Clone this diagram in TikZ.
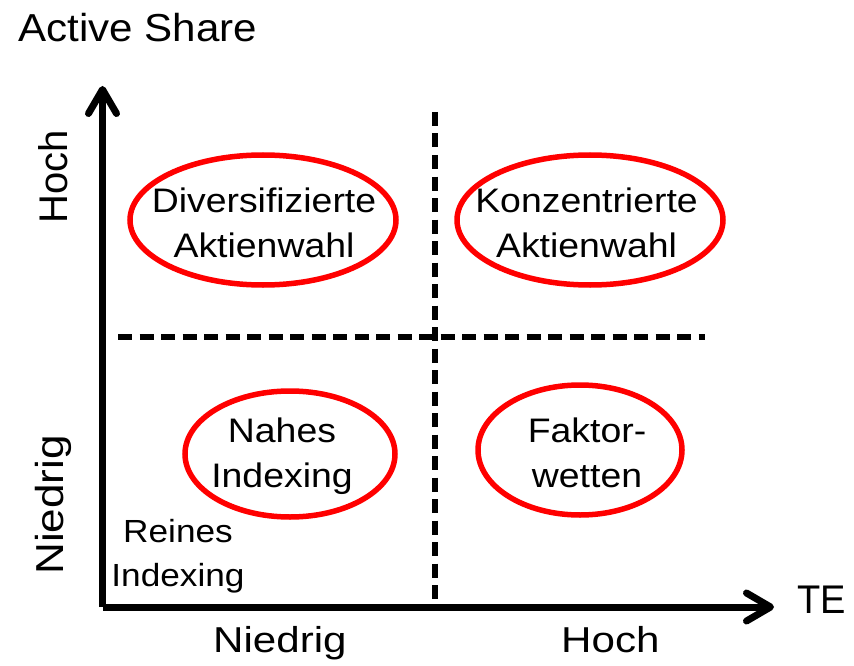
\documentclass[tikz,border=0pt]{standalone}
\usepackage{fontspec}
\setmainfont{Liberation Sans}
\usepackage{graphicx}
\usetikzlibrary{arrows.meta}

% stretched label text
\newcommand{\wide}[2]{\scalebox{#1}[1]{#2}}

\begin{document}
\begin{tikzpicture}[
    x=1pt,y=-1pt,
    >={Straight Barb[length=24pt,width=28pt,line cap=round,line join=round]},
    axis/.style={->,line width=7pt},
    divider/.style={line width=5.5pt,dash pattern=on 14pt off 7.5pt},
    ring/.style={draw=red,line width=5.5pt},
    field/.style={inner sep=0pt,align=center,font=\fontsize{34}{45}\selectfont},
    label/.style={inner sep=0pt,font=\fontsize{#1}{#1}\selectfont},
    label/.default=38
]

% Canvas
\useasboundingbox (0,0) rectangle (854,666);

% Axes
\coordinate (origin) at (102.5,607);
\coordinate (ytip) at (102.5,86);
\coordinate (xtip) at (774,607);
\draw[axis] (origin) -- (ytip);
\draw[axis] (origin) -- (xtip);

% Quadrant dividers
\coordinate (vtop) at (435,112);
\coordinate (vbot) at (435,607);
\coordinate (hleft) at (118,337);
\coordinate (hright) at (705,337);
\draw[divider] (vtop) -- (vbot);
\draw[divider] (hleft) -- (hright);

% Axis titles
\node[label=39,anchor=base west] (ytitle) at (18,42) {\wide{1.08}{Active Share}};
\node[label=40,anchor=base west] (xtitle) at (797,613) {\wide{0.95}{TE}};

% Axis levels
\node[label=40,rotate=90,anchor=base west] (yhigh) at (67,224) {Hoch};
\node[label=39,rotate=90,anchor=base west] (ylow) at (63,575) {\wide{1.13}{Niedrig}};
\node[label=36,anchor=base west] (xlow) at (213,652) {\wide{1.17}{Niedrig}};
\node[label=36,anchor=base west] (xhigh) at (561,652) {\wide{1.17}{Hoch}};

% Quadrants
\node[field] (diversified) at (264,223) {\wide{1.1}{Diversifizierte}\\\wide{1.1}{Aktienwahl}};
\node[field] (concentrated) at (586.5,223) {\wide{1.1}{Konzentrierte}\\\wide{1.1}{Aktienwahl}};
\node[field] (closeindex) at (282,456) {\wide{1.1}{Nahes}\\\wide{1.1}{Indexing}};
\node[field] (factor) at (587,452.5) {\wide{1.1}{Faktor-}\\\wide{1.1}{wetten}};
\draw[ring] (263,220) ellipse [x radius=133,y radius=65];
\draw[ring] (590,220) ellipse [x radius=133,y radius=65];
\draw[ring] (290,454) ellipse [x radius=105,y radius=63];
\draw[ring] (580,450) ellipse [x radius=102,y radius=65];

% Corner case
\node[field,font=\fontsize{32}{44}\selectfont] (pureindex) at (178,556) {\wide{1.1}{Reines}\\\wide{1.1}{Indexing}};

\end{tikzpicture}
\end{document}
